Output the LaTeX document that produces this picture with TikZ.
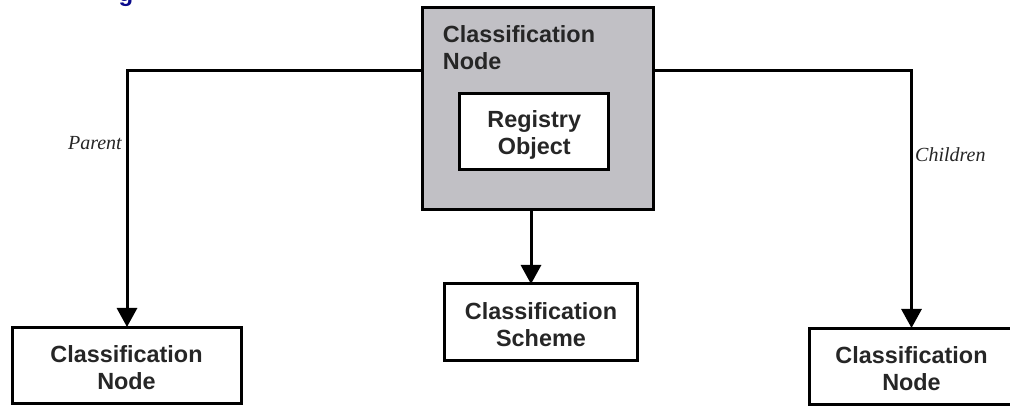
\documentclass[tikz,border=0pt]{standalone}
\usepackage{fontspec}
\setmainfont{Liberation Serif}
\newfontfamily\boxfont{Liberation Sans}
\usetikzlibrary{arrows.meta}

\definecolor{shade}{RGB}{193,192,197}
\definecolor{titleblue}{RGB}{10,10,140}

\tikzset{
  box/.style={draw=black, line width=3pt, fill=white, rectangle, inner sep=0pt, outer sep=0pt},
  outerbox/.style={box, fill=shade},
  boxtext/.style={font=\boxfont\bfseries\fontsize{23.4}{27}\selectfont, align=center, inner sep=0pt, text=black!85},
  roletext/.style={font=\itshape\fontsize{20}{24}\selectfont, inner sep=0pt, text=black!85},
  link/.style={draw=black, line width=3pt},
  linkarrow/.style={link, -{Triangle[width=20pt,length=19pt]}},
}

\begin{document}
\begin{tikzpicture}[x=1pt, y=-1pt]
  \useasboundingbox (0,0) rectangle (1010,406);
  \fill[white] (0,0) rectangle (1010,406);

  % heading above the page edge: only its descender reaches down into view
  \node[font=\boxfont\bfseries\fontsize{24}{28}\selectfont, text=titleblue,
        inner sep=0pt, anchor=base] (heading) at (126,1.5) {g};

  % central classification node with the embedded registry object
  \node[outerbox, minimum width=230.5pt, minimum height=202.5pt] (center) at (538,108.7) {};
  \node[boxtext, align=left, anchor=north west] (centertext) at (442.7,25.3) {Classification\\Node};
  \node[box, minimum width=148.7pt, minimum height=76pt] (registry) at (534.3,132) {};
  \node[boxtext] (registrytext) at ([yshift=-3pt]registry.center) {Registry\\Object};

  % related elements below
  \node[box, minimum width=229pt, minimum height=76pt] (parent) at (126.5,365) {};
  \node[boxtext] (parenttext) at ([yshift=-3pt]parent.center) {Classification\\Node};

  \node[box, minimum width=192.3pt, minimum height=76pt] (scheme) at (541,322) {};
  \node[boxtext] (schemetext) at ([yshift=-3pt]scheme.center) {Classification\\Scheme};

  \node[box, minimum width=205pt, minimum height=76pt] (child) at (911.5,366) {};
  \node[boxtext] (childtext) at ([yshift=-3pt]child.center) {Classification\\Node};

  % connectors
  \coordinate (pbend) at (127,71);
  \coordinate (cbend) at (911.5,71);
  \coordinate (sdrop) at (531,0);

  \draw[linkarrow] (center.west |- pbend) -- (pbend) -- (pbend |- parent.north);
  \draw[linkarrow] (center.east |- cbend) -- (cbend) -- (cbend |- child.north);
  \draw[linkarrow] (sdrop |- center.south) -- (sdrop |- scheme.north);

  % role labels
  \node[roletext, anchor=base east] (parentrole) at (122,150) {Parent};
  \node[roletext, anchor=base west] (childrole) at (915,162) {Children};
\end{tikzpicture}
\end{document}
